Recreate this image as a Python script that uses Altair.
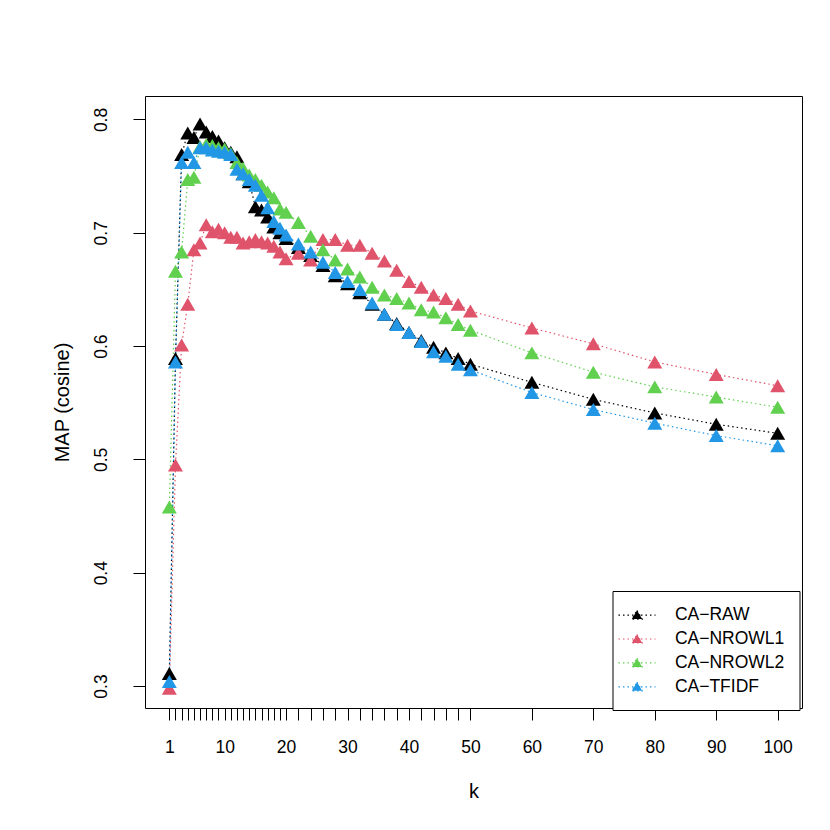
import altair as alt
import pandas as pd

# ---- data ----
k_values = list(range(1, 21)) + list(range(22, 51, 2)) + [60, 70, 80, 90, 100]
series_names = ["CA\u2212RAW", "CA\u2212NROWL1", "CA\u2212NROWL2", "CA\u2212TFIDF"]
series_colors = ["#000000", "#DF536B", "#61D04F", "#2297E6"]

ca_raw = [0.311, 0.589, 0.769, 0.788, 0.784, 0.796, 0.789, 0.785, 0.781, 0.775,
          0.771, 0.767, 0.752, 0.745, 0.723, 0.720, 0.714, 0.705, 0.700, 0.695,
          0.687, 0.680, 0.671, 0.662, 0.655, 0.647, 0.637, 0.628, 0.620, 0.612,
          0.605, 0.599, 0.594, 0.589, 0.584,
          0.568, 0.553, 0.541, 0.531, 0.523]
ca_nrowl1 = [0.298, 0.495, 0.601, 0.637, 0.685, 0.691, 0.707, 0.701, 0.703, 0.700,
             0.696, 0.696, 0.691, 0.692, 0.694, 0.692, 0.691, 0.688, 0.683, 0.677,
             0.682, 0.676, 0.694, 0.694, 0.689, 0.689, 0.682, 0.675, 0.667, 0.657,
             0.652, 0.645, 0.642, 0.637, 0.631,
             0.616, 0.602, 0.586, 0.575, 0.565]
ca_nrowl2 = [0.458, 0.666, 0.683, 0.747, 0.749, 0.776, 0.778, 0.777, 0.775, 0.774,
             0.770, 0.762, 0.757, 0.751, 0.747, 0.742, 0.736, 0.731, 0.721, 0.718,
             0.709, 0.697, 0.685, 0.676, 0.668, 0.661, 0.652, 0.645, 0.642, 0.638,
             0.632, 0.630, 0.625, 0.619, 0.614,
             0.594, 0.577, 0.564, 0.555, 0.546]
ca_tfidf = [0.304, 0.586, 0.762, 0.771, 0.762, 0.775, 0.775, 0.773, 0.772, 0.771,
            0.769, 0.756, 0.752, 0.747, 0.742, 0.733, 0.722, 0.710, 0.704, 0.698,
            0.690, 0.683, 0.674, 0.665, 0.657, 0.650, 0.638, 0.628, 0.619, 0.612,
            0.604, 0.595, 0.591, 0.584, 0.579,
            0.559, 0.544, 0.532, 0.521, 0.512]

y_ticks = [0.3, 0.4, 0.5, 0.6, 0.7, 0.8]
x_domain = [-2.96, 103.96]
y_domain = [0.2806, 0.8207]

rows = []
for name, vals in zip(series_names, [ca_raw, ca_nrowl1, ca_nrowl2, ca_tfidf]):
    for k, v in zip(k_values, vals):
        rows.append({"series": name, "k": k, "map": v})
df = pd.DataFrame(rows)

FONT = "Liberation Sans"
LABEL_SIZE = 17.5
TITLE_SIZE = 20

legend = alt.Legend(
    title=None, orient="none", legendX=467.5, legendY=495,
    symbolType="M-2.18,0L2.18,0M0,-0.53L0.61,0.47L-0.61,0.47Z",
    symbolSize=289, symbolStrokeWidth=1.2, symbolDash=[1.5, 3],
    symbolOpacity=1, symbolOffset=0.4,
    labelFont=FONT, labelFontSize=LABEL_SIZE, labelColor="black", labelOffset=28.4,
    labelLimit=0, rowPadding=5.9, padding=14.6,
    strokeColor="black", fillColor="white",
)

color = alt.Color("series:N", scale=alt.Scale(domain=series_names, range=series_colors),
                  legend=legend, sort=series_names)

x = alt.X("k:Q", scale=alt.Scale(domain=x_domain, nice=False, zero=False),
          axis=alt.Axis(values=k_values, title="k",
                        labelExpr="datum.value == 1 || datum.value % 10 == 0 ? datum.label : ''",
                        format="d", labelOverlap=False, labelBaseline="alphabetic",
                        labelPadding=32.5, tickSize=12,
                        labelFont=FONT, labelFontSize=LABEL_SIZE,
                        titleFont=FONT, titleFontSize=TITLE_SIZE,
                        titleX=328.5, titleY=89, titleBaseline="alphabetic",
                        titleAlign="center"))
y = alt.Y("map:Q", scale=alt.Scale(domain=y_domain, nice=False, zero=False),
          axis=alt.Axis(values=y_ticks, title="MAP (cosine)", format=".1f",
                        labelAngle=-90, labelAlign="center", labelBaseline="alphabetic",
                        labelPadding=26.5, tickSize=12,
                        labelFont=FONT, labelFontSize=LABEL_SIZE,
                        titleFont=FONT, titleFontSize=TITLE_SIZE,
                        titleAngle=-90, titleX=-76.5, titleY=306,
                        titleAlign="center", titleBaseline="alphabetic"))

lines = alt.Chart(df).mark_line(strokeDash=[1.5, 3], strokeWidth=1.2).encode(
    x=x, y=y, color=color, order="k:Q", detail="series:N")
points = alt.Chart(df).mark_point(shape="triangle-up", filled=True, size=225,
                                  opacity=1, strokeWidth=0).encode(
    x=x, y=y, color=color)

chart = alt.layer(lines, points).properties(
    width=657, height=612,
    autosize=alt.AutoSizeParams(type="none"),
    padding={"left": 137, "top": 88, "right": 20, "bottom": 110},
    background="white",
).configure_view(stroke="black", strokeWidth=1).configure_axis(
    domain=False, grid=False, tickColor="black", tickWidth=1,
    labelColor="black", titleColor="black", titleFontWeight="normal",
)

chart.save("out.html", embed_options={"renderer": "svg", "actions": False})
